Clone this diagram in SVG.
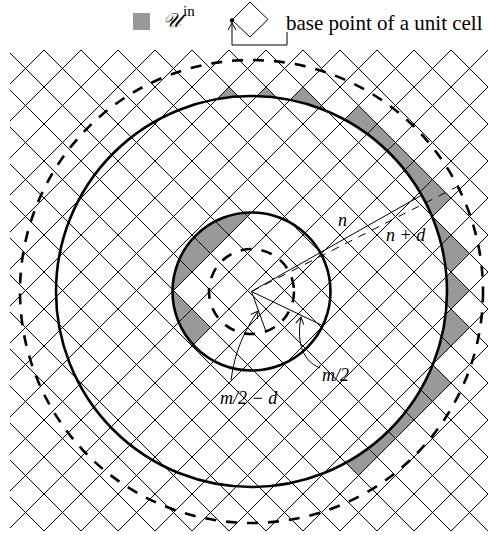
<svg xmlns="http://www.w3.org/2000/svg" width="488" height="535" viewBox="0 0 488 535">
<defs>
<style>
.grid{stroke:#000;stroke-width:1;fill:none}
.cell{fill:#999}
.solid{fill:none;stroke:#000;stroke-width:2.6}
.dash{fill:none;stroke:#000;stroke-width:2.6;stroke-dasharray:11 10}
.thin{fill:none;stroke:#000;stroke-width:1}
.thindash{fill:none;stroke:#000;stroke-width:1;stroke-dasharray:8 7}
.lbl{font-family:"Liberation Serif",serif;font-style:italic;font-size:18px;fill:#000}
.txt{font-family:"Liberation Serif",serif;font-size:21px;fill:#000}
</style>
<clipPath id="gridclip"><rect x="10" y="50" width="478" height="481"/></clipPath>
<clipPath id="hole"><circle cx="251.5" cy="291.5" r="79"/></clipPath>
<clipPath id="outside"><path clip-rule="evenodd" d="M0,0H488V535H0Z M251.5,96 A195.5,195.5 0 1 0 251.5,487 A195.5,195.5 0 1 0 251.5,96Z"/></clipPath>
<marker id="arr" markerWidth="10" markerHeight="10" refX="8" refY="5" orient="auto" markerUnits="userSpaceOnUse"><path d="M1,1L8,5L1,9" fill="none" stroke="#000" stroke-width="1"/></marker>
</defs>
<rect width="488" height="535" fill="#fff"/>
<g id="gray-inner" clip-path="url(#hole)">
<polygon class="cell" points="155,272 173.5,253.5 192,272 173.5,290.5"/>
<polygon class="cell" points="173.5,253.5 192,235 210.5,253.5 192,272"/>
<polygon class="cell" points="192,235 210.5,216.5 229,235 210.5,253.5"/>
<polygon class="cell" points="210.5,216.5 229,198 247.5,216.5 229,235"/>
<polygon class="cell" points="229,198 247.5,179.5 266,198 247.5,216.5"/>
<polygon class="cell" points="155,309 173.5,290.5 192,309 173.5,327.5"/>
<polygon class="cell" points="173.5,327.5 192,309 210.5,327.5 192,346"/>
</g>
<g id="gray-outer" clip-path="url(#outside)">
<polygon class="cell" points="210.5,105.5 229,87 247.5,105.5 229,124"/>
<polygon class="cell" points="247.5,105.5 266,87 284.5,105.5 266,124"/>
<polygon class="cell" points="284.5,105.5 303,87 321.5,105.5 303,124"/>
<polygon class="cell" points="303,124 321.5,105.5 340,124 321.5,142.5"/>
<polygon class="cell" points="340,124 358.5,105.5 377,124 358.5,142.5"/>
<polygon class="cell" points="358.5,142.5 377,124 395.5,142.5 377,161"/>
<polygon class="cell" points="377,161 395.5,142.5 414,161 395.5,179.5"/>
<polygon class="cell" points="395.5,179.5 414,161 432.5,179.5 414,198"/>
<polygon class="cell" points="414,198 432.5,179.5 451,198 432.5,216.5"/>
<polygon class="cell" points="414,235 432.5,216.5 451,235 432.5,253.5"/>
<polygon class="cell" points="432.5,253.5 451,235 469.5,253.5 451,272"/>
<polygon class="cell" points="432.5,290.5 451,272 469.5,290.5 451,309"/>
<polygon class="cell" points="432.5,327.5 451,309 469.5,327.5 451,346"/>
<polygon class="cell" points="414,346 432.5,327.5 451,346 432.5,364.5"/>
<polygon class="cell" points="414,383 432.5,364.5 451,383 432.5,401.5"/>
<polygon class="cell" points="395.5,401.5 414,383 432.5,401.5 414,420"/>
<polygon class="cell" points="377,420 395.5,401.5 414,420 395.5,438.5"/>
<polygon class="cell" points="358.5,438.5 377,420 395.5,438.5 377,457"/>
<polygon class="cell" points="340,457 358.5,438.5 377,457 358.5,475.5"/>
</g>
<g id="grid" class="grid" clip-path="url(#gridclip)">
<path d="M44,50L-437,531M81,50L-400,531M118,50L-363,531M155,50L-326,531M192,50L-289,531M229,50L-252,531M266,50L-215,531M303,50L-178,531M340,50L-141,531M377,50L-104,531M414,50L-67,531M451,50L-30,531M488,50L7,531M525,50L44,531M562,50L81,531M599,50L118,531M636,50L155,531M673,50L192,531M710,50L229,531M747,50L266,531M784,50L303,531M821,50L340,531M858,50L377,531M895,50L414,531M932,50L451,531"/>
<path d="M-437,50L44,531M-400,50L81,531M-363,50L118,531M-326,50L155,531M-289,50L192,531M-252,50L229,531M-215,50L266,531M-178,50L303,531M-141,50L340,531M-104,50L377,531M-67,50L414,531M-30,50L451,531M7,50L488,531M44,50L525,531M81,50L562,531M118,50L599,531M155,50L636,531M192,50L673,531M229,50L710,531M266,50L747,531M303,50L784,531M340,50L821,531M377,50L858,531M414,50L895,531M451,50L932,531"/>
</g>
<g id="circles">
<circle id="outer-n" class="solid" cx="251.5" cy="291.5" r="195.5"/>
<circle id="outer-nd" class="dash" cx="251.5" cy="291.5" r="231.5"/>
<circle id="inner-m2" class="solid" cx="251.5" cy="291.5" r="79"/>
<circle id="inner-m2d" class="dash" cx="251.5" cy="291.5" r="42.5"/>
</g>
<g id="connectors">
<path class="thin" d="M251.5,291.5L421.6,195.2"/>
<path class="thindash" d="M251.5,291.5L456.4,187.1"/>
<path class="thin" d="M251.5,291.5L322.7,325.6"/>
<path class="thin" d="M251.5,291.5L266,331.5"/>
<path class="thin" d="M320,368C300,360 297,338 301,317" marker-end="url(#arr)"/>
<path class="thin" d="M231,380C235,350 245,330 258,311" marker-end="url(#arr)"/>
</g>
<g id="labels">
<text class="lbl" x="338" y="226">n</text>
<text class="lbl" x="386" y="241">n + d</text>
<text class="lbl" x="322" y="381">m/2</text>
<text class="lbl" x="220" y="404">m/2 − d</text>
</g>
<g id="legend">
<rect x="133" y="13" width="17" height="17" fill="#999"/>
<text x="163" y="27" font-family="'DejaVu Serif',serif" font-style="italic" font-size="20">𝒰</text>
<text x="183" y="16" font-family="'Liberation Serif',serif" font-size="15">in</text>
<polygon points="232,20 250,2 268,19.5 250,37" fill="none" stroke="#000" stroke-width="1"/>
<circle cx="232" cy="20.5" r="2.2" fill="#000"/>
<path class="thin" d="M287,32V45H232V23" marker-end="url(#arr)"/>
<text class="txt" x="286" y="30">base point of a unit cell</text>
</g>
</svg>
